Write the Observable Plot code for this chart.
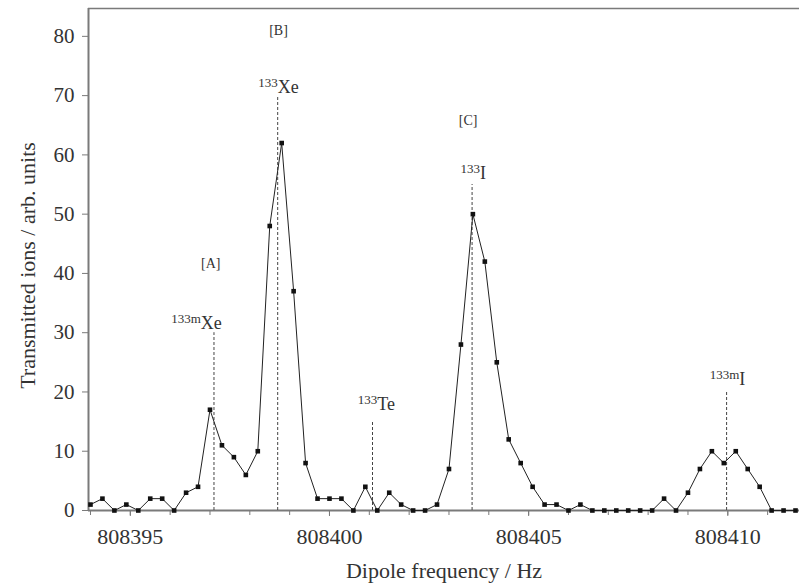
<!DOCTYPE html>
<html>
<head>
<meta charset="utf-8">
<script src="https://cdn.jsdelivr.net/npm/d3@7"></script>
<script src="https://cdn.jsdelivr.net/npm/@observablehq/plot@0.6"></script>
<style>
  html, body { margin: 0; padding: 0; background: #fff; }
  #chart { width: 799px; height: 584px; }
</style>
</head>
<body>
<div id="chart"></div>
<script>
// Dipole frequency (Hz) of each scan step
const freqs = [
  808394.0, 808394.3, 808394.6, 808394.9, 808395.2, 808395.5, 808395.8, 808396.1, 808396.4, 808396.7,
  808397.0, 808397.3, 808397.6, 808397.9, 808398.2, 808398.5, 808398.8, 808399.1, 808399.4, 808399.7,
  808400.0, 808400.3, 808400.6, 808400.9, 808401.2, 808401.5, 808401.8, 808402.1, 808402.4, 808402.7,
  808403.0, 808403.3, 808403.6, 808403.9, 808404.2, 808404.5, 808404.8, 808405.1, 808405.4, 808405.7,
  808406.0, 808406.3, 808406.6, 808406.9, 808407.2, 808407.5, 808407.8, 808408.1, 808408.4, 808408.7,
  808409.0, 808409.3, 808409.6, 808409.9, 808410.2, 808410.5, 808410.8, 808411.1, 808411.4, 808411.7
];
// Transmitted ions (arb. units)
const counts = [
  1, 2, 0, 1, 0, 2, 2, 0, 3, 4,
  17, 11, 9, 6, 10, 48, 62, 37, 8, 2,
  2, 2, 0, 4, 0, 3, 1, 0, 0, 1,
  7, 28, 50, 42, 25, 12, 8, 4, 1, 1,
  0, 1, 0, 0, 0, 0, 0, 0, 2, 0,
  3, 7, 10, 8, 10, 7, 4, 0, 0, 0
];

// Isotope markers (dashed lines)
const isoSup    = ["133m", "133", "133", "133", "133m"];
const isoSym    = ["Xe", "Xe", "Te", "I", "I"];
const isoFreq   = [808397.10, 808398.70, 808401.08, 808403.58, 808409.97];
const isoTop    = [30, 70, 15, 55, 20];
const isoLabelX = [808396.77, 808398.70, 808401.20, 808403.78, 808410.29];
const isoLabelY = [30.7, 70.5, 16.9, 56.0, 21.1];

// Region labels
const regionText = ["[A]", "[B]", "[C]"];
const regionX    = [808397.02, 808398.72, 808403.48];
const regionY    = [41.7, 81.0, 65.8];

// Axes
const xMajorTicks = [808395, 808400, 808405, 808410];
const xMinorTicks = d3.range(808394, 808412, 1);
const yTicks = [0, 10, 20, 30, 40, 50, 60, 70, 80];
const xDomain = [808393.95, 808411.8];
const yDomain = [0, 84.7];
const xTitle = "Dipole frequency / Hz";
const yTitle = "Transmitted ions / arb. units";

const scan = freqs.map((f, i) => ({f, c: counts[i]}));
const isotopes = isoSym.map((s, i) => ({sup: isoSup[i], sym: s, f: isoFreq[i], top: isoTop[i], lx: isoLabelX[i], ly: isoLabelY[i]}));
const regions = regionText.map((t, i) => ({t, x: regionX[i], y: regionY[i]}));

const serif = "'Liberation Serif', 'DejaVu Serif', serif";
const textColor = "#333";
const axisColor = "#7a7a7a";

const chart = Plot.plot({
  width: 799,
  height: 584,
  marginLeft: 88,
  marginRight: 0,
  marginTop: 8,
  marginBottom: 74,
  style: {fontFamily: serif, background: "#fff", color: textColor},
  x: {domain: xDomain, label: null},
  y: {domain: yDomain, label: null},
  marks: [
    // frame lines
    Plot.ruleY([yDomain[0]], {stroke: axisColor, strokeWidth: 2}),
    Plot.ruleY([yDomain[1]], {stroke: axisColor, strokeWidth: 1.5}),
    Plot.ruleX([xDomain[0]], {stroke: axisColor, strokeWidth: 2}),
    // axes
    Plot.axisX({ticks: xMinorTicks, tickSize: 5, tickFormat: () => "", stroke: axisColor, label: null}),
    Plot.axisX({ticks: xMajorTicks, tickSize: 6, tickPadding: 12, tickFormat: d => String(d),
                fontSize: 22, fill: textColor, stroke: axisColor, label: null}),
    Plot.axisY({ticks: yTicks, tickSize: 6, tickPadding: 8, fontSize: 21, fill: textColor,
                stroke: axisColor, label: null}),
    // dashed isotope lines
    Plot.ruleX(isotopes, {x: "f", y1: 0, y2: "top", stroke: "#444", strokeWidth: 1, strokeDasharray: "3,2"}),
    // data
    Plot.line(scan, {x: "f", y: "c", stroke: "#222", strokeWidth: 1}),
    Plot.dot(scan, {x: "f", y: "c", symbol: "square", r: 2.6, fill: "#111", stroke: "none"}),
    // isotope labels
    Plot.text(isotopes, {x: "lx", y: "ly", text: "sup", textAnchor: "end", lineAnchor: "bottom",
                         dy: -6, fontSize: 13, fill: textColor}),
    Plot.text(isotopes, {x: "lx", y: "ly", text: "sym", textAnchor: "start", lineAnchor: "bottom",
                         fontSize: 18, fill: textColor}),
    // region labels
    Plot.text(regions, {x: "x", y: "y", text: "t", fontSize: 14, fill: textColor}),
    // axis titles
    Plot.text([yTitle], {frameAnchor: "left", dx: -61, dy: 6, rotate: -90, textAnchor: "middle", lineAnchor: "middle",
                         fontSize: 22, fill: textColor}),
    Plot.text([xTitle], {frameAnchor: "bottom", dy: 60, textAnchor: "middle", lineAnchor: "middle",
                         fontSize: 22, fill: textColor})
  ]
});
document.getElementById("chart").appendChild(chart);
</script>
</body>
</html>
